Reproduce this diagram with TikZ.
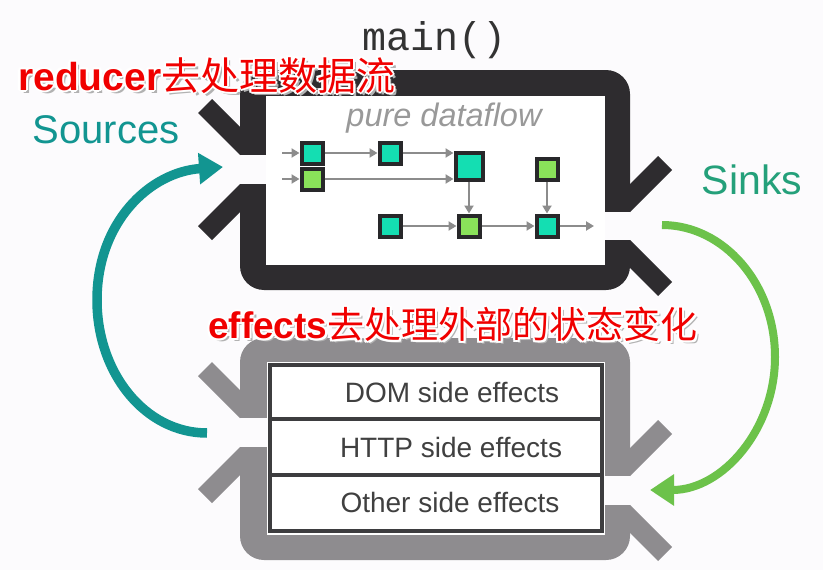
\documentclass[tikz,border=0pt]{standalone}
\usepackage{fontspec}
\setmainfont{Liberation Sans}
\newfontfamily\monofont{Liberation Mono}
\newfontfamily\cjkfont{Noto Sans CJK SC}
\usetikzlibrary{arrows.meta}

\definecolor{framedark}{RGB}{46,44,47}
\definecolor{framegrey}{RGB}{142,140,143}
\definecolor{bgpaper}{RGB}{252,251,253}
\definecolor{srcteal}{RGB}{18,149,145}
\definecolor{sinkgreen}{RGB}{108,194,74}
\definecolor{sinktext}{RGB}{36,160,122}
\definecolor{nodeteal}{RGB}{20,222,178}
\definecolor{nodegreen}{RGB}{138,226,90}
\definecolor{nodeedge}{RGB}{40,40,42}
\definecolor{flowgrey}{RGB}{140,140,140}
\definecolor{subred}{RGB}{240,0,0}

% white rim and soft shadow round the red captions
\newcommand{\halo}[1]{%
  \makebox[0pt][l]{\color{black!30}\hspace*{3pt}\raisebox{-3pt}{#1}}%
  \makebox[0pt][l]{\color{white}\hspace*{2.2pt}#1}%
  \makebox[0pt][l]{\color{white}\hspace*{-2.2pt}#1}%
  \makebox[0pt][l]{\color{white}\raisebox{2.2pt}{#1}}%
  \makebox[0pt][l]{\color{white}\raisebox{-2.2pt}{#1}}%
  \makebox[0pt][l]{\color{white}\hspace*{1.6pt}\raisebox{1.6pt}{#1}}%
  \makebox[0pt][l]{\color{white}\hspace*{-1.6pt}\raisebox{1.6pt}{#1}}%
  \makebox[0pt][l]{\color{white}\hspace*{1.6pt}\raisebox{-1.6pt}{#1}}%
  \makebox[0pt][l]{\color{white}\hspace*{-1.6pt}\raisebox{-1.6pt}{#1}}%
  #1}

\begin{document}
\begin{tikzpicture}[x=1pt,y=-1pt,
  flowbox/.style={draw=nodeedge,line width=4pt,minimum size=21pt,inner sep=0pt},
  tealbox/.style={flowbox,fill=nodeteal},
  greenbox/.style={flowbox,fill=nodegreen},
  flow/.style={draw=flowgrey,line width=2.6pt,-{Triangle[length=8pt,width=9pt]}},
  bigarrow/.style={-{Triangle[length=24pt,width=30pt]}},
  sidetext/.style={font=\fontsize{28}{30}\selectfont,text=black!75},
  subtitle/.style={text=subred,inner sep=0pt}]

\fill[bgpaper] (0,0) rectangle (823,570);

% main() frame
\fill[framedark,rounded corners=24pt] (240,70) rectangle (630,290);
\fill[white] (266,96) rectangle (605,265);
\fill[bgpaper] (239,155) rectangle (266,184);
\fill[bgpaper] (605,212) rectangle (631,240);
\fill[framedark] (198,113) -- (212,99) -- (240,127) -- (240,155) -- cycle;
\fill[framedark] (240,184) -- (240,212) -- (212,240) -- (198,226) -- cycle;
\fill[framedark] (630,212) -- (672,170) -- (658,156) -- (630,184) -- cycle;
\fill[framedark] (630,240) -- (672,282) -- (658,296) -- (630,268) -- cycle;

% effects frame
\fill[framegrey,rounded corners=24pt] (240,338) rectangle (630,560);
\fill[white] (267,362) rectangle (605,535);
\fill[bgpaper] (239,418) rectangle (267,447);
\fill[bgpaper] (605,476) rectangle (631,505);
\fill[framegrey] (198,376) -- (212,362) -- (240,390) -- (240,418) -- cycle;
\fill[framegrey] (240,447) -- (240,475) -- (212,503) -- (198,489) -- cycle;
\fill[framegrey] (630,476) -- (672,434) -- (658,420) -- (630,448) -- cycle;
\fill[framegrey] (630,505) -- (672,547) -- (658,561) -- (630,533) -- cycle;

% side effects table
\draw[nodeedge!90,line width=4pt] (270,365) rectangle (602,531);
\draw[nodeedge!90,line width=4pt] (270,419) -- (602,419);
\draw[nodeedge!90,line width=4pt] (270,475) -- (602,475);
\node[sidetext] (dom) at (452,392) {DOM side effects};
\node[sidetext] (http) at (451,447) {HTTP side effects};
\node[sidetext] (other) at (450,502) {Other side effects};

% dataflow
\node[tealbox] (a1) at (312,153) {};
\node[greenbox] (a2) at (312,179) {};
\node[tealbox] (b) at (390,153) {};
\node[tealbox,minimum size=27pt] (c) at (469,166) {};
\node[greenbox] (d) at (547,169) {};
\node[tealbox] (e) at (390,226) {};
\node[greenbox] (f) at (469,226) {};
\node[tealbox] (g) at (547,226) {};
\coordinate (in1) at (282,153);
\coordinate (in2) at (282,179);
\coordinate (out) at (594,226);

\draw[flow] (in1) -- (a1);
\draw[flow] (in2) -- (a2);
\draw[flow] (a1) -- (b);
\draw[flow] (b) -- (b -| c.west);
\draw[flow] (a2) -- (a2 -| c.west);
\draw[flow] (c) -- (f);
\draw[flow] (d) -- (g);
\draw[flow] (e) -- (f);
\draw[flow] (f) -- (g);
\draw[flow] (g) -- (out);

% sources and sinks loops
\coordinate (srcfrom) at (207,433);
\coordinate (srcto) at (223,167);
\draw[bigarrow,srcteal,line width=9.5pt] (srcfrom) .. controls (145,433) and (97,373) .. (97,300)
  .. controls (97,222) and (150,172) .. (srcto);
\coordinate (sinkfrom) at (662,225);
\coordinate (sinkto) at (650,490);
\draw[bigarrow,sinkgreen,line width=8pt] (sinkfrom) .. controls (724,225) and (775,284) .. (775,357)
  .. controls (775,430) and (722,490) .. (sinkto);

% labels
\node[font=\monofont\fontsize{40}{44}\selectfont,text=black!80] (mainlbl) at (435,40) {main()};
\node[font=\itshape\fontsize{32.5}{36}\selectfont,text=black!40] (purelbl) at (444,118) {pure dataflow};
\node[font=\fontsize{40}{44}\selectfont,text=srcteal] (srclbl) at (106,130) {Sources};
\node[font=\fontsize{41}{44}\selectfont,text=sinktext] (sinklbl) at (752,180) {Sinks};
\node[subtitle,anchor=west,font=\fontsize{39}{42}\selectfont] (reducerlbl) at (18,76)
  {\halo{\textbf{reducer}{\cjkfont 去处理数据流}}};
\node[subtitle,anchor=west,font=\fontsize{37}{40}\selectfont] (effectslbl) at (208,325)
  {\halo{\textbf{effects}{\cjkfont 去处理外部的状态变化}}};
\end{tikzpicture}
\end{document}
